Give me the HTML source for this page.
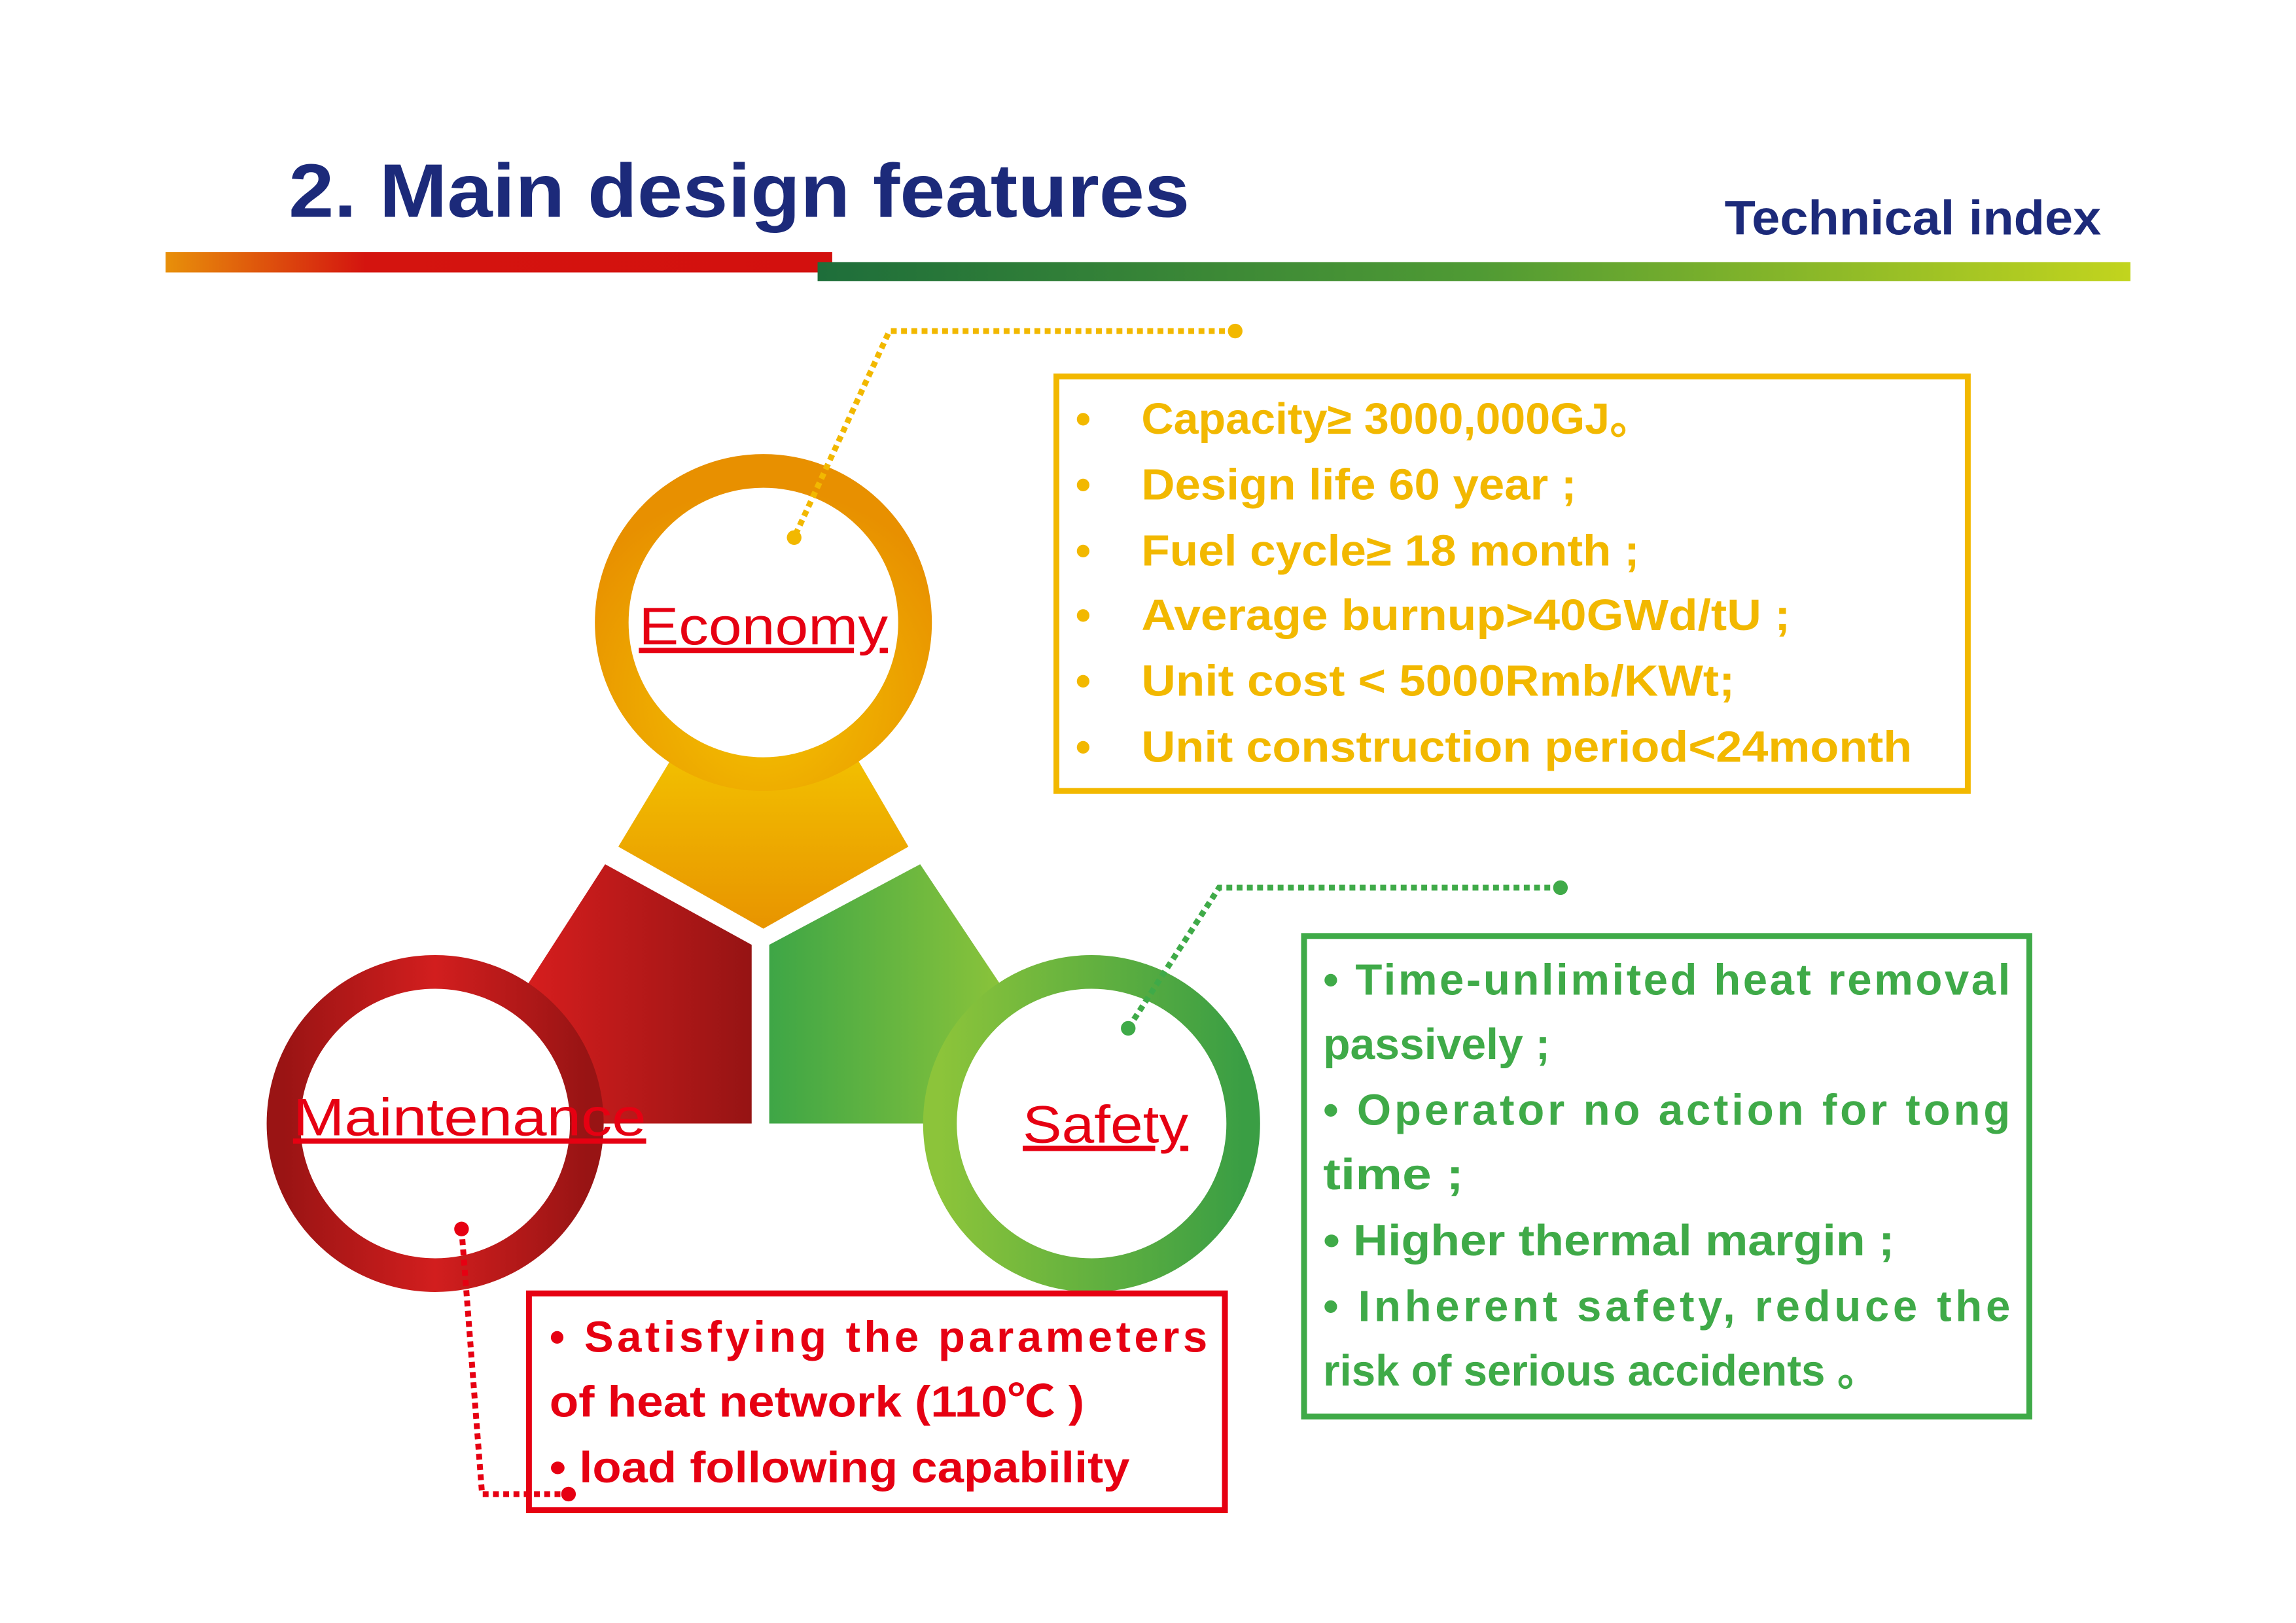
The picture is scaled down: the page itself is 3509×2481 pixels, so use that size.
<!DOCTYPE html>
<html><head><meta charset="utf-8"><style>
html,body{margin:0;padding:0;background:#fff;}
svg{display:block;}
text{font-family:"Liberation Sans","Noto Sans CJK SC",sans-serif;}
</style></head><body>
<svg width="3509" height="2481" viewBox="0 0 1567 1108" preserveAspectRatio="none" xmlns="http://www.w3.org/2000/svg">
<defs>
<linearGradient id="bar1" x1="0" x2="1"><stop offset="0" stop-color="#e8900a"/><stop offset="0.3" stop-color="#d4140f"/><stop offset="1" stop-color="#d3100e"/></linearGradient>
<linearGradient id="bar2" x1="0" x2="1"><stop offset="0" stop-color="#1e6e3a"/><stop offset="0.5" stop-color="#4f9a34"/><stop offset="1" stop-color="#c2d41e"/></linearGradient>
<radialGradient id="yel" cx="0.5" cy="0.75" r="0.7"><stop offset="0" stop-color="#f4c400"/><stop offset="1" stop-color="#e89000"/></radialGradient>
<linearGradient id="yelp" x1="0" y1="0" x2="0" y2="1"><stop offset="0" stop-color="#f2c000"/><stop offset="1" stop-color="#e89400"/></linearGradient>
<linearGradient id="red" x1="0" x2="1"><stop offset="0" stop-color="#9a1414"/><stop offset="0.5" stop-color="#d21e1e"/><stop offset="1" stop-color="#981414"/></linearGradient>
<linearGradient id="redp" x1="0" x2="1"><stop offset="0" stop-color="#d81e1e"/><stop offset="1" stop-color="#961414"/></linearGradient>
<linearGradient id="grn" x1="0" x2="1"><stop offset="0" stop-color="#8cc43a"/><stop offset="1" stop-color="#3a9e44"/></linearGradient>
<linearGradient id="grnp" x1="0" x2="1"><stop offset="0" stop-color="#3ea646"/><stop offset="1" stop-color="#8cc43a"/></linearGradient>
</defs>

<text x="197" y="148" font-size="52" font-weight="bold" fill="#1c2a7a" textLength="615" lengthAdjust="spacingAndGlyphs">2. Main design features</text>
<text x="1177" y="160" font-size="33" font-weight="bold" fill="#1c2a7a" textLength="257" lengthAdjust="spacingAndGlyphs">Technical index</text>
<rect x="113" y="172" width="455" height="14" fill="url(#bar1)"/>
<rect x="558" y="179" width="896" height="13" fill="url(#bar2)"/>

<polygon points="460,515 585,518 620,578 521,634 422,578" fill="url(#yelp)"/>
<polygon points="355,680 413,590 513,645 513,767 380,767" fill="url(#redp)"/>
<polygon points="628,590 525,645 525,767 660,767 688,680" fill="url(#grnp)"/>

<circle cx="521" cy="425" r="103.5" fill="#fff" stroke="url(#yel)" stroke-width="23"/>
<circle cx="297" cy="767" r="103.5" fill="#fff" stroke="url(#red)" stroke-width="23"/>
<circle cx="745" cy="767" r="103.5" fill="#fff" stroke="url(#grn)" stroke-width="23"/>

<text x="521" y="440" font-size="36" fill="#e60012" text-anchor="middle" text-decoration="underline" textLength="170" lengthAdjust="spacingAndGlyphs">Economy</text>
<text x="200" y="775" font-size="36" fill="#e60012" text-decoration="underline" textLength="241" lengthAdjust="spacingAndGlyphs">Maintenance</text>
<text x="698" y="780" font-size="36" fill="#e60012" text-decoration="underline" textLength="113" lengthAdjust="spacingAndGlyphs">Safety</text>

<polyline points="843,226 607,226 542,367" fill="none" stroke="#f2b800" stroke-width="4" stroke-dasharray="4,3"/>
<circle cx="843" cy="226" r="5" fill="#f2b800"/><circle cx="542" cy="367" r="5" fill="#f2b800"/>
<polyline points="1065,606 832,606 770,702" fill="none" stroke="#3faa48" stroke-width="4" stroke-dasharray="4,3"/>
<circle cx="1065" cy="606" r="5" fill="#3faa48"/><circle cx="770" cy="702" r="5" fill="#3faa48"/>
<polyline points="315,839 329,1020 388,1020" fill="none" stroke="#e60012" stroke-width="4" stroke-dasharray="4,3"/>
<circle cx="315" cy="839" r="5" fill="#e60012"/><circle cx="388" cy="1020" r="5" fill="#e60012"/>

<rect x="721" y="257" width="622" height="283" fill="none" stroke="#f2b800" stroke-width="4"/>
<g font-size="30" font-weight="bold" fill="#f2b800">
<text x="734" y="296">•</text><text x="779" y="296" textLength="350" lengthAdjust="spacingAndGlyphs">Capacity≥ 3000,000GJ。</text>
<text x="734" y="341">•</text><text x="779" y="341" textLength="297" lengthAdjust="spacingAndGlyphs">Design life 60 year ;</text>
<text x="734" y="386">•</text><text x="779" y="386" textLength="340" lengthAdjust="spacingAndGlyphs">Fuel cycle≥ 18 month ;</text>
<text x="734" y="430">•</text><text x="779" y="430" textLength="443" lengthAdjust="spacingAndGlyphs">Average burnup&gt;40GWd/tU ;</text>
<text x="734" y="475">•</text><text x="779" y="475" textLength="405" lengthAdjust="spacingAndGlyphs">Unit cost &lt; 5000Rmb/KWt;</text>
<text x="734" y="520">•</text><text x="779" y="520" textLength="526" lengthAdjust="spacingAndGlyphs">Unit construction period&lt;24month</text>
</g>

<rect x="890" y="639" width="495" height="328" fill="none" stroke="#3faa48" stroke-width="4"/>
<g font-size="30" font-weight="bold" fill="#3faa48">
<text x="903" y="679" textLength="469" lengthAdjust="spacing">• Time-unlimited heat removal</text>
<text x="903" y="723" textLength="155" lengthAdjust="spacingAndGlyphs">passively ;</text>
<text x="903" y="768" textLength="469" lengthAdjust="spacing">• Operator no action for tong</text>
<text x="903" y="812" textLength="96" lengthAdjust="spacingAndGlyphs">time  ;</text>
<text x="903" y="857" textLength="390" lengthAdjust="spacingAndGlyphs">• Higher thermal margin ;</text>
<text x="903" y="902" textLength="469" lengthAdjust="spacing">• Inherent safety, reduce the</text>
<text x="903" y="946" textLength="380" lengthAdjust="spacingAndGlyphs">risk of serious accidents 。</text>
</g>

<rect x="361" y="883" width="475" height="148" fill="none" stroke="#e60012" stroke-width="4"/>
<g font-size="30" font-weight="bold" fill="#e60012">
<text x="375" y="923" textLength="449" lengthAdjust="spacing">• Satisfying the parameters</text>
<text x="375" y="967" textLength="365" lengthAdjust="spacingAndGlyphs">of heat network (110℃ )</text>
<text x="375" y="1012" textLength="396" lengthAdjust="spacingAndGlyphs">• load following capability</text>
</g>
</svg>
</body></html>
